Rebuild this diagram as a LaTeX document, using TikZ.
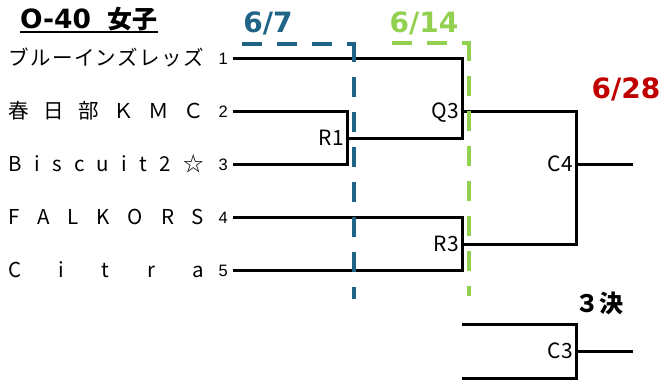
\documentclass[tikz,border=0pt]{standalone}
\usepackage{fontspec}
\setmainfont{Noto Sans CJK JP}
\newfontfamily\dvs{DejaVu Sans}
\newfontfamily\lib{Liberation Sans}
\definecolor{dblue}{HTML}{1F6487}
\definecolor{dgreen}{HTML}{92D050}
\definecolor{dred}{HTML}{C00000}
\newcommand\spreadname[1]{\makebox[196pt][s]{#1}}
\tikzset{
  bline/.style={line width=3pt, line join=miter},
  teamname/.style={anchor=base west, inner sep=0pt, font=\fontsize{20.5}{20.5}\selectfont},
  seed/.style={anchor=base east, inner sep=0pt, font=\lib\fontsize{16.5}{16.5}\selectfont},
  mlabel/.style={anchor=east, inner sep=0pt, text depth=0pt, font=\fontsize{21}{21}\selectfont},
  datelbl/.style={anchor=base, inner sep=0pt, font=\dvs\bfseries\fontsize{28}{28}\selectfont},
  bluedash/.style={draw=dblue, line width=4pt, dash pattern=on 20pt off 15pt},
  greendash/.style={draw=dgreen, line width=4pt, dash pattern=on 20pt off 15pt},
}
\begin{document}
\begin{tikzpicture}[x=1pt,y=-1pt]
\useasboundingbox (0,0) rectangle (661,381);
% title
\node[anchor=base west, inner sep=0pt, font=\dvs\bfseries\fontsize{26.5}{26.5}\selectfont] (ttl) at (20,28) {O-40};
\node[anchor=base west, inner sep=0pt, font=\bfseries\fontsize{25}{25}\selectfont] (ttl2) at (107,28) {女子};
\coordinate (ul1) at (20,32);
\coordinate (ul2) at (158,32);
\draw[line width=1.8pt] (ul1) -- (ul2);
% team names
\node[teamname] (t1) at (8,65) {\spreadname{ブ\hfill ル\hfill ー\hfill イ\hfill ン\hfill ズ\hfill レ\hfill ッ\hfill ズ}};
\node[teamname] (t2) at (8,118) {\spreadname{春\hfill 日\hfill 部\hfill Ｋ\hfill Ｍ\hfill Ｃ}};
\node[teamname] (t3) at (8,171) {\spreadname{B\hfill i\hfill s\hfill c\hfill u\hfill i\hfill t\hfill 2\hfill ☆}};
\node[teamname] (t4) at (8,224) {\spreadname{F\hfill A\hfill L\hfill K\hfill O\hfill R\hfill S}};
\node[teamname] (t5) at (8,277) {\spreadname{C\hfill i\hfill t\hfill r\hfill a}};
% seeds
\node[seed] (n1) at (228,64) {1};
\node[seed] (n2) at (228,117) {2};
\node[seed] (n3) at (228,170) {3};
\node[seed] (n4) at (228,223) {4};
\node[seed] (n5) at (228,276) {5};
% bracket coordinates
\coordinate (s1) at (233,58);
\coordinate (s2) at (233,111);
\coordinate (s3) at (233,164);
\coordinate (s4) at (233,217);
\coordinate (s5) at (233,270);
\coordinate (r1a) at (347,111);
\coordinate (r1b) at (347,164);
\coordinate (r1o) at (347,138);
\coordinate (q3a) at (462,58);
\coordinate (q3b) at (462,138);
\coordinate (q3o) at (462,111);
\coordinate (r3a) at (462,217);
\coordinate (r3b) at (462,270);
\coordinate (r3o) at (462,244);
\coordinate (c4a) at (576,111);
\coordinate (c4b) at (576,244);
\coordinate (c4o) at (576,164);
\coordinate (c4e) at (633,164);
\coordinate (c3l1) at (462,324);
\coordinate (c3l2) at (462,378);
\coordinate (c3a) at (576,324);
\coordinate (c3b) at (576,378);
\coordinate (c3o) at (576,351);
\coordinate (c3e) at (633,351);
% bracket lines
\draw[bline] (s2) -- (r1a) -- (r1b) -- (s3);
\draw[bline] (s1) -- (q3a) -- (q3b) -- (r1o);
\draw[bline] (s4) -- (r3a) -- (r3b) -- (s5);
\draw[bline] (q3o) -- (c4a) -- (c4b) -- (r3o);
\draw[bline] (c4o) -- (c4e);
\draw[bline] (c3l1) -- (c3a) -- (c3b) -- (c3l2);
\draw[bline] (c3o) -- (c3e);
% match labels
\node[mlabel] (lr1) at (344,138) {R1};
\node[mlabel] (lq3) at (459,111) {Q3};
\node[mlabel] (lr3) at (459,244) {R3};
\node[mlabel] (lc4) at (573,164) {C4};
\node[mlabel] (lc3) at (573,351) {C3};
% dashed round separators
\coordinate (bh1) at (242,44);
\coordinate (bh2) at (356,44);
\coordinate (bv1) at (354,42);
\coordinate (bv2) at (354,299);
\draw[bluedash] (bh1) -- (bh2);
\draw[bluedash] (bv1) -- (bv2);
\coordinate (gh1) at (392,43);
\coordinate (gh2) at (471,43);
\coordinate (gv1) at (469,41);
\coordinate (gv2) at (469,296);
\draw[greendash] (gh1) -- (gh2);
\draw[greendash] (gv1) -- (gv2);
% dates
\node[datelbl, text=dblue] (d1) at (268,32) {6/7};
\node[datelbl, text=dgreen] (d2) at (424,32) {6/14};
\node[datelbl, text=dred] (d3) at (626,98) {6/28};
% third place
\node[anchor=base west, inner sep=0pt, font=\bfseries\fontsize{24}{24}\selectfont] (third) at (575,312) {３決};
\end{tikzpicture}
\end{document}
